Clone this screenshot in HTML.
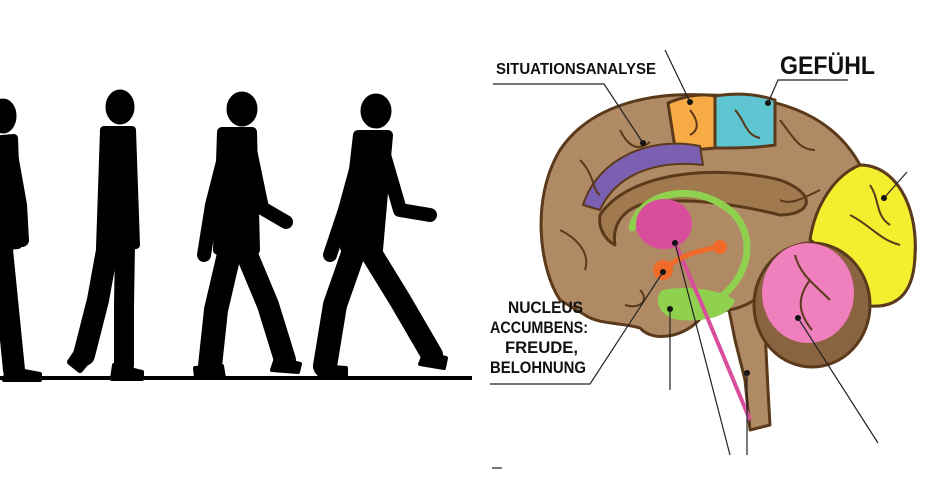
<!DOCTYPE html>
<html><head><meta charset="utf-8"><style>
html,body{margin:0;padding:0;background:#fff;}
svg{display:block;}
text{font-family:"Liberation Sans",sans-serif;font-weight:bold;fill:#111;}
</style></head><body>
<svg width="940" height="492" viewBox="0 0 940 492" xmlns="http://www.w3.org/2000/svg">
<rect width="940" height="492" fill="#fff"/>
<!-- walkers -->
<g fill="#000" stroke="#000" stroke-linecap="round" stroke-linejoin="round">
 <ellipse cx="3" cy="116" rx="13" ry="17"/>
 <path d="M-10,140 L14,138 L18,245 L-10,248Z" stroke-width="8"/>
 <polyline points="12,160 20,205 22,240" fill="none" stroke-width="14"/>
 <polyline points="2,250 8,310 14,370" fill="none" stroke-width="22"/>
 <path d="M8,368 L40,374 L40,380 L4,380Z" stroke-width="4"/>
 <ellipse cx="120" cy="107" rx="14" ry="17"/>
 <path d="M104,130 L132,130 L136,245 L100,248Z" stroke-width="8"/>
 <polyline points="126,145 132,200 132,240" fill="none" stroke-width="12"/>
 <polyline points="108,245 98,300 84,355" fill="none" stroke-width="22"/>
 <polyline points="125,245 124,305 124,365" fill="none" stroke-width="20"/>
 <path d="M78,350 L90,358 L80,370 L70,362Z" stroke-width="6"/>
 <path d="M114,365 L142,372 L142,379 L112,379Z" stroke-width="4"/>
 <ellipse cx="242" cy="109" rx="15" ry="17"/>
 <path d="M222,132 L252,132 L255,250 L218,250Z" stroke-width="10"/>
 <polyline points="226,150 212,205 204,255" fill="none" stroke-width="14"/>
 <polyline points="250,150 262,208 286,222" fill="none" stroke-width="14"/>
 <polyline points="230,250 216,310 210,366" fill="none" stroke-width="24"/>
 <polyline points="245,250 268,305 285,360" fill="none" stroke-width="22"/>
 <path d="M195,368 L222,366 L224,378 L196,378Z" stroke-width="4"/>
 <path d="M276,358 L300,364 L298,372 L272,370Z" stroke-width="4"/>
 <ellipse cx="376" cy="111" rx="15" ry="17"/>
 <path d="M358,135 L388,135 L378,250 L345,248Z" stroke-width="10"/>
 <polyline points="360,155 345,210 330,255" fill="none" stroke-width="14"/>
 <polyline points="384,155 400,210 430,215" fill="none" stroke-width="14"/>
 <polyline points="355,248 335,305 325,366" fill="none" stroke-width="24"/>
 <polyline points="368,248 400,300 432,355" fill="none" stroke-width="22"/>
 <path d="M318,366 L346,368 L346,378 L320,378Z" stroke-width="4"/>
 <path d="M425,352 L446,358 L444,368 L420,364Z" stroke-width="4"/>
</g>
<rect x="0" y="376" width="472" height="4" fill="#000"/>

<!-- brain -->
<g stroke="#5a3a1a" stroke-width="3" stroke-linejoin="round">
 <path d="M725,290 L762,290 L765,330 L768,390 L770,425 L750,430 L745,380 L735,340 Z" fill="#b08a65"/>
 <path d="M560,300 C540,270 530,200 560,150 C590,105 650,92 705,95 C770,95 830,110 860,165 C895,165 918,205 915,255 C914,290 900,308 870,306 L800,302 L765,292 C750,305 735,312 705,312 C692,335 655,345 640,328 C620,322 600,325 585,315 Z" fill="#b08a65"/>
 <path d="M860,165 C895,165 918,205 915,255 C914,290 900,308 870,306 C860,280 840,260 810,240 C815,205 835,175 860,165Z" fill="#f4ee2e"/>
 <ellipse cx="812" cy="305" rx="58" ry="62" fill="#8a6340"/>
 <ellipse cx="808" cy="293" rx="46" ry="50" fill="#ef7fbd" stroke="none"/>
 <path d="M668,103 C690,94 705,94 715,96 L715,148 C700,150 688,150 675,148 Z" fill="#f6ab45"/>
 <path d="M715,96 C740,92 760,95 775,100 L775,145 C755,148 735,148 715,148Z" fill="#5ec5d1"/>
 <path d="M583,205 C598,158 650,136 700,146 L703,165 C660,160 617,172 600,210 Z" fill="#7b5fb0" stroke-width="2"/>
 <path d="M600,215 C630,170 720,165 780,180 C820,195 810,215 780,215 C740,205 680,195 640,205 C620,212 612,228 615,245 C605,240 598,228 600,215Z" fill="#a0794f"/>
</g>
<g fill="none" stroke="#5a3a1a" stroke-width="2">
 <path d="M580,160 C595,175 592,190 600,195"/><path d="M620,130 C630,150 640,150 650,142"/>
 <path d="M780,120 C795,140 800,150 815,150"/><path d="M820,190 C800,200 790,205 780,200"/>
 <path d="M560,230 C580,240 590,255 585,270"/><path d="M640,290 C650,300 640,310 625,305"/>
 <path d="M870,185 C880,200 875,215 890,225"/><path d="M850,215 C870,225 880,240 900,245"/>
 <path d="M690,110 C698,120 700,130 690,135"/><path d="M735,110 C745,120 745,135 760,138"/>
 <path d="M795,255 C800,275 815,285 830,300"/><path d="M810,280 C795,300 800,315 812,330"/>
</g>
<path d="M632,228 C640,190 700,180 735,215 C760,245 745,290 700,310" fill="none" stroke="#8fd14f" stroke-width="7" stroke-linecap="round"/>
<path d="M662,290 C690,285 720,290 735,300 C730,318 700,322 680,320 C660,318 652,300 662,290Z" fill="#8fd14f"/>
<ellipse cx="664" cy="224" rx="28" ry="25" fill="#d94e9b"/>
<path d="M675,243 L700,300 L750,420" stroke="#d94e9b" stroke-width="4" fill="none"/>
<path d="M663,270 C680,255 700,250 720,247" stroke="#f06a2a" stroke-width="5" fill="none"/>
<circle cx="663" cy="270" r="10" fill="#f06a2a"/>
<circle cx="720" cy="247" r="7" fill="#f06a2a"/>
<g fill="#111">
 <circle cx="643" cy="143" r="3"/><circle cx="690" cy="102" r="3"/><circle cx="768" cy="103" r="3"/>
 <circle cx="884" cy="198" r="3"/><circle cx="675" cy="243" r="3"/><circle cx="663" cy="272" r="3"/>
 <circle cx="670" cy="309" r="3"/><circle cx="747" cy="373" r="3"/><circle cx="798" cy="318" r="3"/>
</g>
<g stroke="#222" stroke-width="1.2" fill="none">
 <polyline points="493,84 604,84 643,143"/>
 <polyline points="665,50 690,102"/>
 <polyline points="848,80 778,80 768,103"/>
 <polyline points="884,198 907,172"/>
 <polyline points="490,384 590,384 663,272"/>
 <polyline points="670,309 670,390"/>
 <polyline points="675,243 730,455"/>
 <polyline points="747,373 747,455"/>
 <polyline points="798,318 878,443"/>
 <polyline points="492,468 502,468"/>
</g>
<text x="496" y="74" font-size="16" textLength="160" lengthAdjust="spacingAndGlyphs">SITUATIONSANALYSE</text>
<text x="780" y="74" font-size="25" textLength="95" lengthAdjust="spacingAndGlyphs">GEFÜHL</text>
<g font-size="17">
 <text x="508" y="313" textLength="75" lengthAdjust="spacingAndGlyphs">NUCLEUS</text>
 <text x="490" y="333" textLength="98" lengthAdjust="spacingAndGlyphs">ACCUMBENS:</text>
 <text x="505" y="353" textLength="73" lengthAdjust="spacingAndGlyphs">FREUDE,</text>
 <text x="490" y="373" textLength="96" lengthAdjust="spacingAndGlyphs">BELOHNUNG</text>
</g>
</svg>
</body></html>
